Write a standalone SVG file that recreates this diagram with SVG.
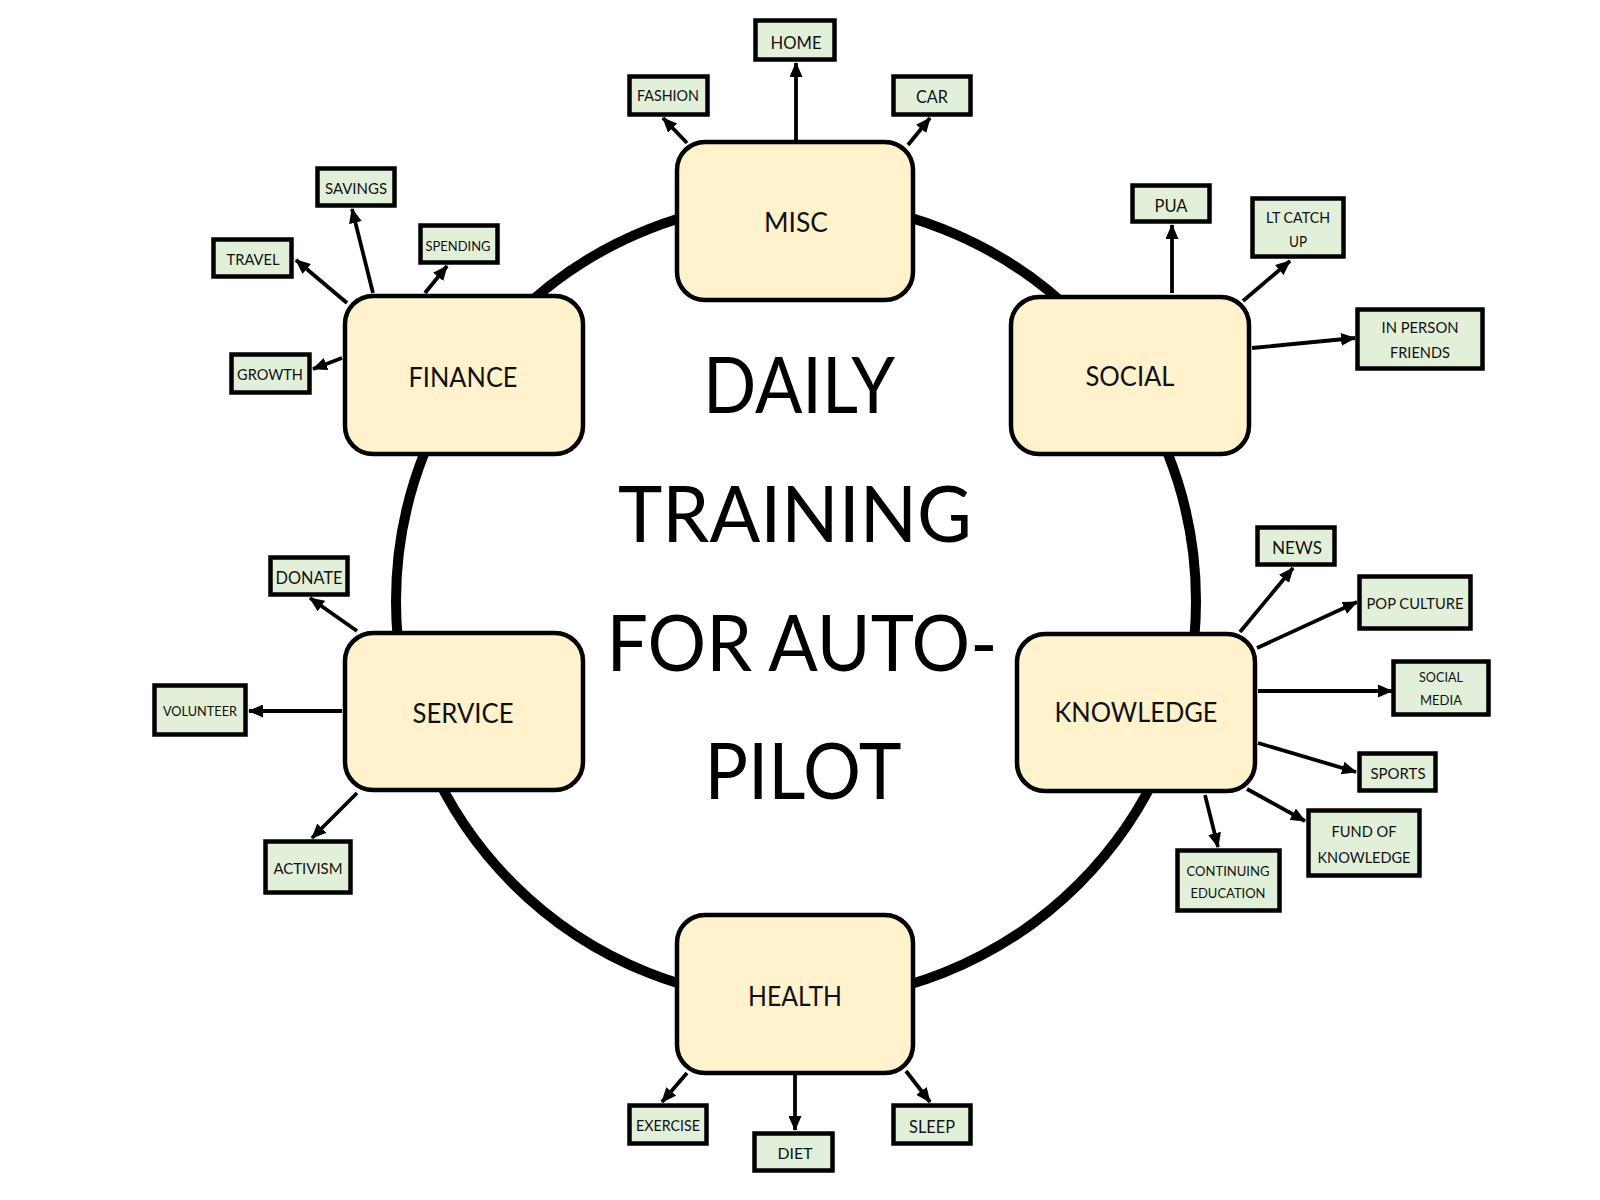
<svg xmlns="http://www.w3.org/2000/svg" width="1600" height="1200" viewBox="0 0 1600 1200">
<defs>
<marker id="ah" markerUnits="userSpaceOnUse" markerWidth="15" markerHeight="13" refX="14" refY="6.5" orient="auto">
<path d="M0,0 L15,6.5 L0,13 z" fill="#000"/>
</marker>
<style>
text{font-family:Lato,"Open Sans","Liberation Sans",sans-serif;fill:#111;text-anchor:middle}
.main rect{fill:#FFF2CC;stroke:#000;stroke-width:4.5}
.main text{font-size:26px}
.leaf rect{fill:#E2F0D9;stroke:#000;stroke-width:4.5}
.leaf text{font-size:16px}
.s14 text{font-size:14px}
.s13 text{font-size:13px}
.s18 text{font-size:18px}
.title text{font-size:78px;fill:#000}
#connectors line{stroke:#000;stroke-width:3.8;marker-end:url(#ah)}
</style>
</defs>
<rect width="1600" height="1200" fill="#fff"/>
<circle id="ring" cx="796" cy="601" r="400" fill="none" stroke="#000" stroke-width="10"/>
<g class="title" id="title">
<text x="799" y="413" textLength="192" lengthAdjust="spacingAndGlyphs">DAILY</text>
<text x="795" y="542" textLength="354" lengthAdjust="spacingAndGlyphs">TRAINING</text>
<text x="802" y="671" textLength="391" lengthAdjust="spacingAndGlyphs">FOR AUTO-</text>
<text x="803" y="799" textLength="197" lengthAdjust="spacingAndGlyphs">PILOT</text>
</g>
<g id="connectors">
<line x1="687" y1="143" x2="663" y2="118"/>
<line x1="796" y1="140" x2="796" y2="63"/>
<line x1="908" y1="145" x2="930" y2="118"/>
<line x1="347" y1="303" x2="296" y2="260"/>
<line x1="373" y1="293" x2="352" y2="209"/>
<line x1="425" y1="293" x2="447" y2="266"/>
<line x1="342" y1="358" x2="313" y2="369"/>
<line x1="1172" y1="293" x2="1172" y2="225"/>
<line x1="1243" y1="301" x2="1290" y2="261"/>
<line x1="1252" y1="348" x2="1355" y2="338"/>
<line x1="1240" y1="632" x2="1293" y2="568"/>
<line x1="1257" y1="648" x2="1357" y2="602"/>
<line x1="1258" y1="691" x2="1392" y2="691"/>
<line x1="1258" y1="743" x2="1356" y2="772"/>
<line x1="1247" y1="789" x2="1305" y2="821"/>
<line x1="1205" y1="795" x2="1218" y2="847"/>
<line x1="357" y1="631" x2="310" y2="598"/>
<line x1="342" y1="711" x2="249" y2="711"/>
<line x1="357" y1="793" x2="312" y2="838"/>
<line x1="687" y1="1073" x2="662" y2="1102"/>
<line x1="795" y1="1075" x2="795" y2="1130"/>
<line x1="906" y1="1071" x2="930" y2="1102"/>
</g>
<g id="misc" class="main"><rect x="677" y="142" width="236" height="158" rx="28"/><text x="796" y="232" textLength="64" lengthAdjust="spacingAndGlyphs">MISC</text></g>
<g id="finance" class="main"><rect x="345" y="296" width="238" height="158" rx="28"/><text x="463" y="387" textLength="109" lengthAdjust="spacingAndGlyphs">FINANCE</text></g>
<g id="social" class="main"><rect x="1011" y="297" width="238" height="157" rx="28"/><text x="1130" y="386" textLength="89" lengthAdjust="spacingAndGlyphs">SOCIAL</text></g>
<g id="knowledge" class="main"><rect x="1017" y="634" width="238" height="157" rx="28"/><text x="1136" y="722" textLength="163" lengthAdjust="spacingAndGlyphs">KNOWLEDGE</text></g>
<g id="service" class="main"><rect x="345" y="633" width="238" height="157" rx="28"/><text x="463" y="723" textLength="101" lengthAdjust="spacingAndGlyphs">SERVICE</text></g>
<g id="health" class="main"><rect x="677" y="915" width="236" height="158" rx="28"/><text x="795" y="1006" textLength="94" lengthAdjust="spacingAndGlyphs">HEALTH</text></g>

<g id="home" class="leaf s18"><rect x="755.5" y="20.5" width="79" height="39"/><text x="796" y="48.5" textLength="51" lengthAdjust="spacingAndGlyphs">HOME</text></g>
<g id="fashion" class="leaf"><rect x="629.5" y="76.5" width="78" height="38"/><text x="668" y="100.5" style="font-size:15px" textLength="62" lengthAdjust="spacingAndGlyphs">FASHION</text></g>
<g id="car" class="leaf s18"><rect x="893.5" y="76.5" width="77" height="38"/><text x="932" y="103" textLength="32" lengthAdjust="spacingAndGlyphs">CAR</text></g>
<g id="savings" class="leaf"><rect x="317.5" y="168.5" width="77" height="37"/><text x="356" y="194" textLength="62" lengthAdjust="spacingAndGlyphs">SAVINGS</text></g>
<g id="travel" class="leaf"><rect x="213.5" y="239.5" width="78" height="37"/><text x="253" y="265" textLength="53" lengthAdjust="spacingAndGlyphs">TRAVEL</text></g>
<g id="spending" class="leaf s14"><rect x="420.5" y="225.5" width="77" height="37"/><text x="458" y="250.5" textLength="65" lengthAdjust="spacingAndGlyphs">SPENDING</text></g>
<g id="growth" class="leaf"><rect x="231.5" y="354.5" width="78" height="38"/><text x="270" y="380" textLength="66" lengthAdjust="spacingAndGlyphs">GROWTH</text></g>
<g id="pua" class="leaf"><rect x="1132.5" y="185.5" width="77" height="36"/><text x="1171" y="212" style="font-size:17px" textLength="33" lengthAdjust="spacingAndGlyphs">PUA</text></g>
<g id="ltcatchup" class="leaf"><rect x="1252.5" y="198.5" width="91" height="58"/><text x="1298" y="223" textLength="64" lengthAdjust="spacingAndGlyphs">LT CATCH</text><text x="1298" y="247" textLength="18" lengthAdjust="spacingAndGlyphs">UP</text></g>
<g id="inperson" class="leaf"><rect x="1357.5" y="309.5" width="125" height="59"/><text x="1420" y="333" textLength="77" lengthAdjust="spacingAndGlyphs">IN PERSON</text><text x="1420" y="358" textLength="60" lengthAdjust="spacingAndGlyphs">FRIENDS</text></g>
<g id="news" class="leaf s18"><rect x="1257.5" y="527.5" width="77" height="37"/><text x="1297" y="553.5" textLength="50" lengthAdjust="spacingAndGlyphs">NEWS</text></g>
<g id="popculture" class="leaf"><rect x="1359.5" y="576.5" width="111" height="52"/><text x="1415" y="609" textLength="97" lengthAdjust="spacingAndGlyphs">POP CULTURE</text></g>
<g id="socialmedia" class="leaf s13"><rect x="1393.5" y="661.5" width="95" height="53"/><text x="1441" y="681.5" textLength="44" lengthAdjust="spacingAndGlyphs">SOCIAL</text><text x="1441" y="704.5" textLength="42" lengthAdjust="spacingAndGlyphs">MEDIA</text></g>
<g id="sports" class="leaf"><rect x="1359.5" y="753.5" width="76" height="37"/><text x="1398" y="779" textLength="55" lengthAdjust="spacingAndGlyphs">SPORTS</text></g>
<g id="fund" class="leaf"><rect x="1308.5" y="810.5" width="111" height="65"/><text x="1364" y="837" textLength="65" lengthAdjust="spacingAndGlyphs">FUND OF</text><text x="1364" y="863" textLength="93" lengthAdjust="spacingAndGlyphs">KNOWLEDGE</text></g>
<g id="continuing" class="leaf s14"><rect x="1177.5" y="850.5" width="102" height="60"/><text x="1228" y="876" textLength="83" lengthAdjust="spacingAndGlyphs">CONTINUING</text><text x="1228" y="898" textLength="75" lengthAdjust="spacingAndGlyphs">EDUCATION</text></g>
<g id="donate" class="leaf"><rect x="270.5" y="557.5" width="77" height="37"/><text x="309" y="583.5" style="font-size:17px" textLength="67" lengthAdjust="spacingAndGlyphs">DONATE</text></g>
<g id="volunteer" class="leaf s14"><rect x="154.5" y="685.5" width="91" height="49"/><text x="200" y="716" textLength="74" lengthAdjust="spacingAndGlyphs">VOLUNTEER</text></g>
<g id="activism" class="leaf"><rect x="265.5" y="841.5" width="85" height="51"/><text x="308" y="874" textLength="69" lengthAdjust="spacingAndGlyphs">ACTIVISM</text></g>
<g id="exercise" class="leaf"><rect x="629.5" y="1105.5" width="77" height="38"/><text x="668" y="1130.5" style="font-size:15px" textLength="64" lengthAdjust="spacingAndGlyphs">EXERCISE</text></g>
<g id="diet" class="leaf"><rect x="754.5" y="1133.5" width="78" height="37"/><text x="795" y="1159" textLength="35" lengthAdjust="spacingAndGlyphs">DIET</text></g>
<g id="sleep" class="leaf"><rect x="893.5" y="1105.5" width="77" height="38"/><text x="932" y="1132.5" style="font-size:17px" textLength="46" lengthAdjust="spacingAndGlyphs">SLEEP</text></g>
</svg>
